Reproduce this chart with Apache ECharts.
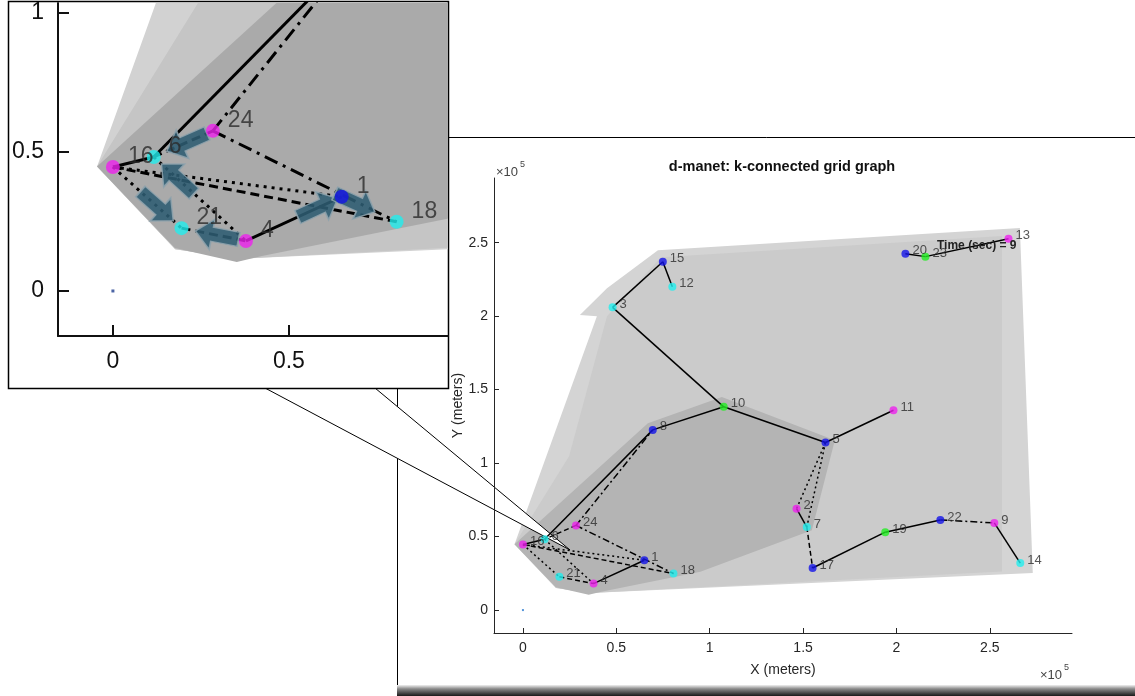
<!DOCTYPE html>
<html>
<head>
<meta charset="utf-8">
<style>
  html, body { margin: 0; padding: 0; background: #fff; }
  #chart { width: 1135px; height: 696px; }
</style>
<script src="https://cdn.jsdelivr.net/npm/echarts@6/dist/echarts.min.js"></script>
</head>
<body>
<div id="chart"></div>
<script>
// node positions, x and y in units of 1e5 meters
const nodeIds = [1, 2, 3, 4, 5, 6, 7, 8, 9, 10, 11, 12, 13, 14, 15, 16, 17, 18, 19, 20, 21, 22, 23, 24]
const nodeX = [0.65, 1.465, 0.48, 0.378, 1.62, 0.116, 1.52, 0.695, 2.524, 1.075, 1.984, 0.80, 2.60, 2.663, 0.749, 0.0, 1.551, 0.806, 1.94, 2.048, 0.195, 2.235, 2.155, 0.284]
const nodeY = [0.339, 0.69, 2.06, 0.18, 1.14, 0.482, 0.565, 1.226, 0.593, 1.383, 1.36, 2.20, 2.527, 0.32, 2.37, 0.446, 0.286, 0.249, 0.53, 2.425, 0.226, 0.613, 2.405, 0.576]
const nodeKind = ['b', 'm', 'c', 'm', 'b', 'c', 'c', 'b', 'm', 'g', 'm', 'c', 'm', 'c', 'b', 'm', 'b', 'c', 'g', 'b', 'c', 'b', 'g', 'm']

// links between nodes, grouped by line style
const edgesSolid = [[16, 6], [6, 8], [8, 10], [10, 3], [3, 15], [15, 12], [10, 5], [5, 11], [2, 7], [4, 1], [17, 19], [19, 22], [9, 14], [20, 23], [23, 13]]
const edgesDashed = [[16, 18], [21, 4], [7, 17], [24, 6]]
const edgesDotted = [[16, 1], [6, 4], [5, 2], [5, 7], [16, 21]]
const edgesDashDot = [[24, 8], [24, 18], [22, 9]]

// direction arrows in the zoomed view: from node, to node, fraction along the link
const arrowLinks = [[24, 6, 0.44], [4, 6, 0.74], [16, 21, 0.64], [4, 21, 0.45], [4, 1, 0.75], [1, 18, 0.24]]

// coverage hulls (1e5 m)
const hullOuter = [[-0.045, 0.448], [0.396, 2.0], [0.305, 2.007], [0.45, 2.19], [0.723, 2.449], [2.661, 2.599], [2.73, 0.252], [0.359, 0.116], [0.177, 0.15]]
const hullInner = [[-0.045, 0.448], [0.247, 1.047], [0.45, 2.0], [0.74, 2.40], [2.565, 2.545], [2.565, 0.262], [0.359, 0.116], [0.177, 0.15]]
const hullCore = [[-0.045, 0.448], [0.669, 1.272], [1.065, 1.449], [1.67, 1.156], [1.547, 0.544], [0.95, 0.26], [0.42, 0.125], [0.352, 0.104], [0.176, 0.155]]

const xTicks = [0, 0.5, 1, 1.5, 2, 2.5]
const yTicks = [0, 0.5, 1, 1.5, 2, 2.5]
const zoomXTicks = [0, 0.5]
const zoomYTicks = [0, 0.5, 1]

const kindColor = { b: '#1414e8', m: '#ee22ee', c: '#22eeee', g: '#22ee22' }
const FONT = 'Liberation Sans, Arial, sans-serif'

const chart = echarts.init(document.getElementById('chart'))

function pos(id) {
  const i = nodeIds.indexOf(id)
  return [nodeX[i], nodeY[i]]
}

function hullSeries(points, color, idx, z) {
  return {
    type: 'custom',
    xAxisIndex: idx,
    yAxisIndex: idx,
    clip: true,
    z: z,
    silent: true,
    data: [0],
    renderItem(params, api) {
      return {
        type: 'polygon',
        shape: { points: points.map(p => api.coord(p)) },
        style: { fill: color }
      }
    }
  }
}

function linkSeries(edges, width, dash, idx, z) {
  return {
    type: 'lines',
    coordinateSystem: 'cartesian2d',
    xAxisIndex: idx,
    yAxisIndex: idx,
    clip: true,
    z: z,
    silent: true,
    lineStyle: { color: '#000', width: width, type: dash, opacity: 1 },
    data: edges.map(e => ({ coords: [pos(e[0]), pos(e[1])] }))
  }
}

function nodeSeries(idx, size, fontSize, dist, off, z) {
  return {
    type: 'scatter',
    xAxisIndex: idx,
    yAxisIndex: idx,
    z: z,
    symbolSize: size,
    clip: true,
    data: nodeIds.map((id, i) => ({
      name: String(id),
      value: [nodeX[i], nodeY[i]],
      itemStyle: { color: kindColor[nodeKind[i]] }
    })),
    label: {
      show: true,
      formatter: p => p.data.name,
      position: 'right',
      distance: dist,
      offset: off,
      fontSize: fontSize,
      fontFamily: FONT,
      color: '#2a2a2a'
    }
  }
}

function axisPair(idx, ticksX, ticksY, range, opts) {
  const lineStyle = { color: opts.color, width: opts.width }
  const common = {
    gridIndex: idx,
    type: 'value',
    z: opts.z,
    splitLine: { show: false },
    axisLine: { show: true, onZero: false, lineStyle },
    axisTick: { show: true, inside: true, length: opts.tick, lineStyle },
    axisLabel: { fontSize: opts.font, fontFamily: FONT, color: opts.color }
  }
  const x = echarts.util.merge({
    min: range[0], max: range[1],
    axisTick: { customValues: ticksX },
    axisLabel: { customValues: ticksX, margin: opts.xMargin }
  }, common)
  const y = echarts.util.merge({
    min: range[2], max: range[3],
    axisTick: { customValues: ticksY },
    axisLabel: { customValues: ticksY, margin: opts.yMargin }
  }, common)
  return [x, y]
}

const mainAxes = axisPair(0, xTicks, yTicks, [-0.155, 2.94, -0.156, 2.94],
  { color: '#262626', width: 1, tick: 5, font: 14, xMargin: 8, yMargin: 6, z: 2 })
mainAxes[0].name = 'X (meters)'
mainAxes[0].nameLocation = 'middle'
mainAxes[0].nameGap = 30
mainAxes[0].nameTextStyle = { fontSize: 14, fontFamily: FONT, color: '#262626' }
mainAxes[1].name = 'Y (meters)'
mainAxes[1].nameLocation = 'middle'
mainAxes[1].nameRotate = 90
mainAxes[1].nameGap = 29
mainAxes[1].nameMoveOverlap = false
mainAxes[1].nameTextStyle = { fontSize: 14, fontFamily: FONT, color: '#262626' }

const zoomAxes = axisPair(1, zoomXTicks, zoomYTicks, [-0.156, 0.952, -0.162, 1.036],
  { color: '#111', width: 2, tick: 11, font: 23, xMargin: 14, yMargin: 14, z: 15 })

const option = {
  animation: false,
  backgroundColor: '#fff',
  grid: [
    { left: 494, top: 178, width: 578, height: 455 },
    { left: 58, top: 3, width: 390, height: 333 }
  ],
  xAxis: [mainAxes[0], zoomAxes[0]],
  yAxis: [mainAxes[1], zoomAxes[1]],
  graphic: {
    elements: [
      // main figure panel
      { type: 'rect', z: 0, silent: true, shape: { x: 397.5, y: 137.5, width: 800, height: 549 },
        style: { fill: '#fff', stroke: '#000', lineWidth: 1 } },
      { type: 'rect', z: 0, silent: true, shape: { x: 397, y: 685, width: 740, height: 11 },
        style: { fill: new echarts.graphic.LinearGradient(0, 0, 0, 1, [
          { offset: 0, color: '#f0f0f0' }, { offset: 0.35, color: '#8a8a8a' }, { offset: 1, color: '#1a1a1a' }]) } },
      // callout wedge
      { type: 'polygon', z: 1.5, silent: true, shape: { points: [[265, 388], [375, 388], [570, 550]] },
        style: { fill: '#fff', stroke: '#000', lineWidth: 1 } },
      // zoomed view panel
      { type: 'rect', z: 10, silent: true, shape: { x: 8.5, y: 1.5, width: 440, height: 387 },
        style: { fill: '#fff', stroke: '#000', lineWidth: 1.5 } },
      { type: 'text', z: 20, silent: true, x: 782, y: 167,
        style: { text: 'd-manet: k-connected grid graph', font: 'bold 14.5px ' + FONT, fill: '#111', align: 'center', verticalAlign: 'middle' } },
      { type: 'text', z: 20, silent: true, x: 937, y: 246,
        style: { text: 'Time (sec) = 9', font: 'bold 12px ' + FONT, fill: '#222', align: 'left', verticalAlign: 'middle' } },
      { type: 'text', z: 20, silent: true, x: 496, y: 172,
        style: { text: '×10', font: '13px ' + FONT, fill: '#444', align: 'left', verticalAlign: 'middle' } },
      { type: 'text', z: 20, silent: true, x: 520, y: 165,
        style: { text: '5', font: '9px ' + FONT, fill: '#444', align: 'left', verticalAlign: 'middle' } },
      { type: 'text', z: 20, silent: true, x: 1040, y: 675,
        style: { text: '×10', font: '13px ' + FONT, fill: '#444', align: 'left', verticalAlign: 'middle' } },
      { type: 'text', z: 20, silent: true, x: 1064, y: 668,
        style: { text: '5', font: '9px ' + FONT, fill: '#444', align: 'left', verticalAlign: 'middle' } }
    ]
  },
  series: [
    hullSeries(hullOuter, '#d4d4d4', 0, 1),
    hullSeries(hullInner, '#cbcbcb', 0, 1),
    hullSeries(hullCore, '#b4b4b4', 0, 1),
    linkSeries(edgesSolid, 1.5, 'solid', 0, 3),
    linkSeries(edgesDashed, 1.5, [5, 3], 0, 3),
    linkSeries(edgesDotted, 1.5, [2, 3], 0, 3),
    linkSeries(edgesDashDot, 1.5, [7, 3, 2, 3], 0, 3),
    nodeSeries(0, 8, 13, 3, [0, -3], 4),
    { type: 'scatter', xAxisIndex: 0, yAxisIndex: 0, z: 4, symbol: 'rect', symbolSize: 2,
      itemStyle: { color: '#2b7bd0' }, data: [[0, 0]] },

    hullSeries(hullOuter, '#d2d2d2', 1, 11),
    hullSeries(hullInner, '#c5c5c5', 1, 11),
    hullSeries(hullCore, '#aaaaaa', 1, 11),
    linkSeries(edgesSolid, 3, 'solid', 1, 12),
    linkSeries(edgesDashed, 3, [9, 5], 1, 12),
    linkSeries(edgesDotted, 3, [3, 5], 1, 12),
    linkSeries(edgesDashDot, 3, [14, 6, 3, 6], 1, 12),
    {
      id: 'arrows', type: 'scatter', xAxisIndex: 1, yAxisIndex: 1, z: 13,
      symbol: 'path://M0,7L22,7L22,0L36,13L22,26L22,19L0,19Z',
      symbolSize: [44, 31],
      itemStyle: { color: '#2d5c72', borderColor: '#8ea3ad', borderWidth: 1.5, opacity: 0.88 },
      data: []
    },
    nodeSeries(1, 14, 23, 8, [0, -10], 14),
    { type: 'scatter', xAxisIndex: 1, yAxisIndex: 1, z: 14, symbol: 'rect', symbolSize: 3,
      itemStyle: { color: '#1f3f8f' }, data: [[0, 0]] }
  ]
}

chart.setOption(option)

// place the arrows along their links, turned the way the link runs on screen
const finder = { xAxisIndex: 1, yAxisIndex: 1 }
const arrowData = arrowLinks.map(a => {
  const p = pos(a[0])
  const q = pos(a[1])
  const t = a[2]
  const at = [p[0] + (q[0] - p[0]) * t, p[1] + (q[1] - p[1]) * t]
  const pp = chart.convertToPixel(finder, p)
  const qq = chart.convertToPixel(finder, q)
  const angle = Math.atan2(-(qq[1] - pp[1]), qq[0] - pp[0]) * 180 / Math.PI
  return { value: at, symbolRotate: angle }
})
chart.setOption({ series: [{ id: 'arrows', data: arrowData }] })
</script>
</body>
</html>
